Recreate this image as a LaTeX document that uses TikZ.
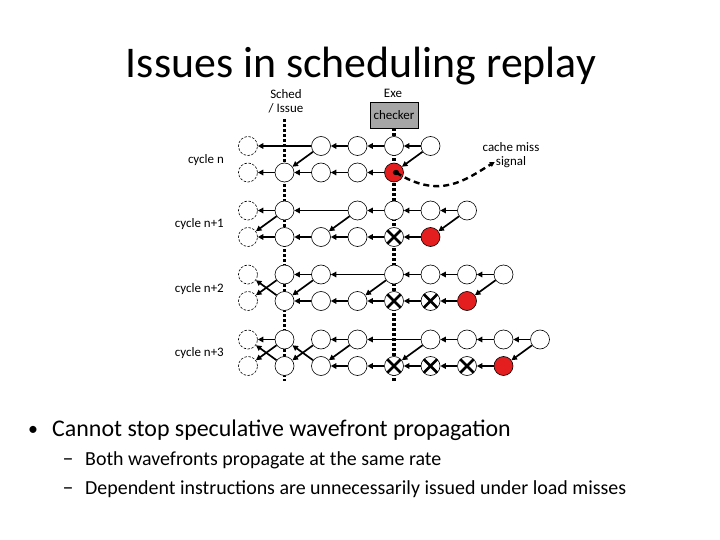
\documentclass[tikz,border=0pt]{standalone}
\usepackage{fontspec}
\setmainfont{Carlito}
\usepackage{tikz}
\usetikzlibrary{arrows.meta,backgrounds}
\definecolor{missred}{HTML}{E41E1E}
\definecolor{checkgray}{HTML}{A6A6A6}

\begin{document}
\begin{tikzpicture}[x=1bp,y=-1bp,
  op/.style={circle,draw,fill=white,line width=0.6bp,minimum size=19bp,inner sep=0pt},
  ghost/.style={op,dash pattern=on 2.5bp off 1.5bp},
  miss/.style={op,fill=missred},
  squash/.style={op,path picture={\draw[line width=2.6bp]
      (path picture bounding box.north west) -- (path picture bounding box.south east)
      (path picture bounding box.north east) -- (path picture bounding box.south west);}},
  dep/.style={-{Triangle[length=5.5bp,width=5.5bp]},line width=1.7bp},
  stage/.style={line width=3.2bp,dash pattern=on 3bp off 2bp},
  small/.style={inner sep=1bp,font=\fontsize{13}{14}\selectfont},
  txt/.style={inner sep=0pt,anchor=base west}]
  \useasboundingbox (0,0) rectangle (720,540);
  \node[inner sep=0pt,anchor=base,font=\fontsize{44}{50}\selectfont] (title) at (361,78) {Issues in scheduling replay};

  % stage labels
  \node[small,align=center] (sched) at (286,101.5) {Sched\\/ Issue};
  \node[small,inner sep=0pt] (exe) at (393,93.5) {Exe};
  \node[draw,fill=checkgray,line width=0.6bp,minimum width=48bp,minimum height=26bp,small] (checker) at (394,115) {checker};
  \coordinate (schedtop) at (284.5,119);
  \coordinate (schedbot) at (284.5,381);
  \coordinate (exebot) at (394,381);

  \node[small,anchor=east] (cyc1) at (225,160) {cycle n};
  \node[small,anchor=east] (cyc2) at (225,224.5) {cycle n+1};
  \node[small,anchor=east] (cyc3) at (225,289) {cycle n+2};
  \node[small,anchor=east] (cyc4) at (225,353.5) {cycle n+3};

  % cycle n
  \node[ghost] (t1-0) at (248,146) {};
  \node[op] (t1-2) at (321,146) {}; \node[op] (t1-3) at (357.5,146) {};
  \node[op] (t1-4) at (394,146) {}; \node[op] (t1-5) at (430.5,146) {};
  \node[ghost] (b1-0) at (248,172.5) {};
  \node[op] (b1-1) at (284.5,172.5) {}; \node[op] (b1-2) at (321,172.5) {};
  \node[op] (b1-3) at (357.5,172.5) {}; \node[miss] (b1-4) at (394,172.5) {};
  \draw[dep] (t1-2) -- (t1-0);
  \draw[dep] (t1-3) -- (t1-2);
  \draw[dep] (t1-4) -- (t1-3);
  \draw[dep] (t1-5) -- (t1-4);
  \draw[dep] (t1-2) -- (b1-1);
  \draw[dep] (t1-5) -- (b1-4);
  \draw[dep] (b1-1) -- (b1-0);
  \draw[dep] (b1-2) -- (b1-1);
  \draw[dep] (b1-3) -- (b1-2);
  \draw[dep] (b1-4) -- (b1-3);

  % cycle n+1
  \node[ghost] (t2-0) at (248,210.5) {};
  \node[op] (t2-1) at (284.5,210.5) {}; \node[op] (t2-3) at (357.5,210.5) {};
  \node[op] (t2-4) at (394,210.5) {}; \node[op] (t2-5) at (430.5,210.5) {};
  \node[op] (t2-6) at (467,210.5) {};
  \node[ghost] (b2-0) at (248,237) {};
  \node[op] (b2-1) at (284.5,237) {}; \node[op] (b2-2) at (321,237) {};
  \node[op] (b2-3) at (357.5,237) {}; \node[squash] (b2-4) at (394,237) {};
  \node[miss] (b2-5) at (430.5,237) {};
  \draw[dep] (t2-1) -- (t2-0);
  \draw[dep] (t2-3) -- (t2-1);
  \draw[dep] (t2-4) -- (t2-3);
  \draw[dep] (t2-5) -- (t2-4);
  \draw[dep] (t2-6) -- (t2-5);
  \draw[dep] (t2-1) -- (b2-0);
  \draw[dep] (t2-3) -- (b2-2);
  \draw[dep] (t2-6) -- (b2-5);
  \draw[dep] (b2-1) -- (b2-0);
  \draw[dep] (b2-2) -- (b2-1);
  \draw[dep] (b2-3) -- (b2-2);
  \draw[dep] (b2-4) -- (b2-3);
  \draw[dep] (b2-5) -- (b2-4);

  % cycle n+2
  \node[ghost] (t3-0) at (248,274.5) {};
  \node[op] (t3-1) at (284.5,274.5) {}; \node[op] (t3-2) at (321,274.5) {};
  \node[op] (t3-4) at (394,274.5) {}; \node[op] (t3-5) at (430.5,274.5) {};
  \node[op] (t3-6) at (467,274.5) {}; \node[op] (t3-7) at (503.5,274.5) {};
  \node[ghost] (b3-0) at (248,301) {};
  \node[op] (b3-1) at (284.5,301) {}; \node[op] (b3-2) at (321,301) {};
  \node[op] (b3-3) at (357.5,301) {}; \node[squash] (b3-4) at (394,301) {};
  \node[squash] (b3-5) at (430.5,301) {}; \node[miss] (b3-6) at (467,301) {};
  \draw[dep] (t3-2) -- (t3-1);
  \draw[dep] (t3-4) -- (t3-2);
  \draw[dep] (t3-5) -- (t3-4);
  \draw[dep] (t3-6) -- (t3-5);
  \draw[dep] (t3-7) -- (t3-6);
  \draw[dep] (t3-1) -- (b3-0);
  \draw[dep] (b3-1) -- (t3-0);
  \draw[dep] (t3-2) -- (b3-1);
  \draw[dep] (t3-4) -- (b3-3);
  \draw[dep] (t3-7) -- (b3-6);
  \draw[dep] (b3-2) -- (b3-1);
  \draw[dep] (b3-3) -- (b3-2);
  \draw[dep] (b3-4) -- (b3-3);
  \draw[dep] (b3-5) -- (b3-4);
  \draw[dep] (b3-6) -- (b3-5);

  % cycle n+3
  \node[ghost] (t4-0) at (248,339.5) {};
  \node[op] (t4-1) at (284.5,339.5) {}; \node[op] (t4-2) at (321,339.5) {};
  \node[op] (t4-3) at (357.5,339.5) {}; \node[op] (t4-5) at (430.5,339.5) {};
  \node[op] (t4-6) at (467,339.5) {}; \node[op] (t4-7) at (503.5,339.5) {};
  \node[op] (t4-8) at (540,339.5) {};
  \node[ghost] (b4-0) at (248,366) {};
  \node[op] (b4-1) at (284.5,366) {}; \node[op] (b4-2) at (321,366) {};
  \node[op] (b4-3) at (357.5,366) {}; \node[squash] (b4-4) at (394,366) {};
  \node[squash] (b4-5) at (430.5,366) {}; \node[squash] (b4-6) at (467,366) {};
  \node[miss] (b4-7) at (503.5,366) {};
  \draw[dep] (t4-1) -- (t4-0);
  \draw[dep] (t4-3) -- (t4-2);
  \draw[dep] (t4-5) -- (t4-3);
  \draw[dep] (t4-6) -- (t4-5);
  \draw[dep] (t4-7) -- (t4-6);
  \draw[dep] (t4-8) -- (t4-7);
  \draw[dep] (t4-1) -- (b4-0);
  \draw[dep] (b4-1) -- (t4-0);
  \draw[dep] (t4-2) -- (b4-1);
  \draw[dep] (b4-2) -- (t4-1);
  \draw[dep] (t4-3) -- (b4-2);
  \draw[dep] (t4-5) -- (b4-4);
  \draw[dep] (t4-8) -- (b4-7);
  \draw[dep] (b4-3) -- (b4-2);
  \draw[dep] (b4-4) -- (b4-3);
  \draw[dep] (b4-5) -- (b4-4);
  \draw[dep] (b4-6) -- (b4-5);
  \draw[dep] (b4-7) -- (b4-6);

  \begin{scope}[on background layer]
    \draw[stage] (schedtop) -- (schedbot);
    \draw[stage] (checker.south) -- (exebot);
  \end{scope}

  % miss signal
  \node[small] (cachemiss) at (511,147) {cache miss};
  \node[small] (signal) at (511,162) {signal};
  \fill ([xshift=2bp]b1-4.center) ellipse[x radius=3.2bp,y radius=2.6bp];
  \draw[line width=2.4bp,dash pattern=on 6bp off 4bp,-{Triangle[length=5bp,width=5bp]}]
    ([xshift=2bp]b1-4.center) .. controls (440,200) and (465,180) .. (signal.west);

  % bullets
  \node[inner sep=0pt,anchor=base,font=\fontsize{20}{28}\selectfont] (dot) at (33,435) {•};
  \node[txt,font=\fontsize{24}{28}\selectfont] (point) at (52,436) {Cannot stop speculative wavefront propagation};
  \node[inner sep=0pt,anchor=base,font=\fontsize{22}{24}\selectfont] (dash1) at (68,465) {–};
  \node[txt,font=\fontsize{20}{24}\selectfont] (sub1) at (85,465) {Both wavefronts propagate at the same rate};
  \node[inner sep=0pt,anchor=base,font=\fontsize{22}{24}\selectfont] (dash2) at (68,494) {–};
  \node[txt,font=\fontsize{20}{24}\selectfont] (sub2) at (85,494) {Dependent instructions are unnecessarily issued under load misses};
\end{tikzpicture}
\end{document}
